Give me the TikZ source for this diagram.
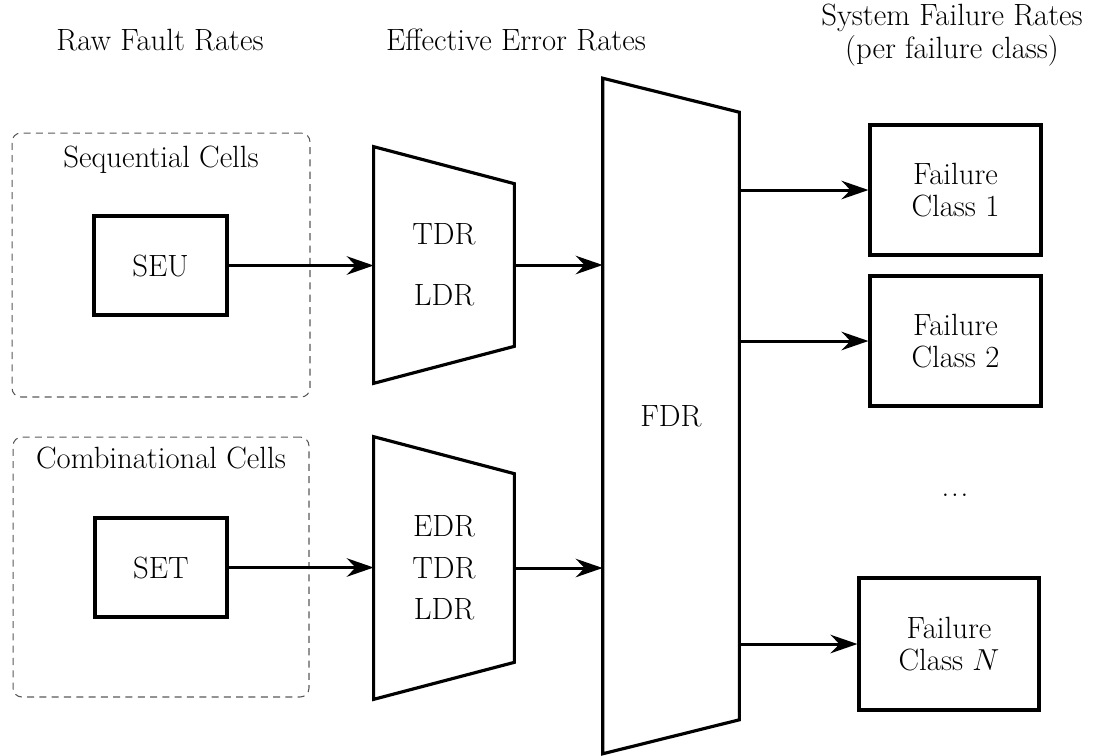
\documentclass[tikz,border=0pt]{standalone}
\usetikzlibrary{arrows.meta}
\tikzset{
  cellbox/.style   = {draw, line width=1.8pt, inner sep=0pt, align=center},
  cellgroup/.style = {draw=black!65, dash pattern=on 4pt off 3pt, line width=0.6pt,
                      rounded corners=5pt, inner sep=0pt},
  muxbox/.style    = {inner sep=0pt, align=center},
  muxline/.style   = {line width=1.8pt, line join=miter},
  link/.style      = {-{Stealth[length=5.4mm,width=3.7mm,inset=1.8mm]}, line width=1.7pt},
  caption/.style   = {anchor=base, align=center},
}

\begin{document}
\begin{tikzpicture}[x=0.02cm, y=-0.02cm, font=\fontsize{17.5}{18.5}\selectfont]
\useasboundingbox (0,0) rectangle (1095,755);

% ---------------- column titles ---------------------------------------
\node[caption] (traw) at (160,50) {Raw Fault Rates};
\node[caption] (teff) at (516,50) {Effective Error Rates};
\node[align=center] (tsys) at (952,35) {System Failure Rates\\(per failure class)};

% ---------------- raw faults ------------------------------------------
\node[cellgroup, minimum width=5.96cm, minimum height=5.28cm] (gseq) at (161,265) {};
\node[cellgroup, minimum width=5.92cm, minimum height=5.2cm] (gcomb) at (161,567) {};
\node[caption] (lseq) at (161,167) {Sequential Cells};
\node[caption] (lcomb) at (161,468) {Combinational Cells};

\node[cellbox, minimum width=2.66cm, minimum height=1.98cm] (seu) at (160.5,265.5) {SEU};
\node[cellbox, minimum width=2.64cm, minimum height=1.98cm] (set) at (161,567.5) {SET};

% ---------------- derating stages -------------------------------------
\node[muxbox, minimum width=2.8cm, minimum height=4.72cm] (mux1) at (444,265)
  {TDR\\[16pt]LDR};
\node[muxbox, minimum width=2.8cm, minimum height=5.24cm] (mux2) at (444,568)
  {EDR\\[5pt]TDR\\[5pt]LDR};
\node[muxbox, minimum width=2.72cm, minimum height=13.5cm] (fdr) at (671,416) {FDR};

\foreach \m/\d in {mux1/0.74cm, mux2/0.74cm, fdr/0.68cm}
  \draw[muxline] (\m.north west) -- ([yshift=-\d]\m.north east)
    -- ([yshift=\d]\m.south east) -- (\m.south west) -- cycle;

% ---------------- failure classes -------------------------------------
\node[cellbox, minimum width=3.42cm, minimum height=2.6cm] (fc1) at (955.5,190)
  {Failure\\Class 1};
\node[cellbox, minimum width=3.42cm, minimum height=2.6cm] (fc2) at (955.5,341)
  {Failure\\Class 2};
\node[cellbox, minimum width=3.6cm, minimum height=2.64cm] (fcn) at (949,644)
  {Failure\\Class $N$};
\node[caption] (fdots) at (955,496) {.\kern1pt.\kern1pt.};

% ---------------- connections -----------------------------------------
\draw[link] (seu.east) -- (seu.east -| mux1.west);
\draw[link] (set.east) -- (set.east -| mux2.west);
\foreach \m in {mux1, mux2}
  \draw[link] (\m.east) -- (\m.east -| fdr.west);
\foreach \f in {fc1, fc2, fcn}
  \draw[link] (fdr.east |- \f.west) -- (\f.west);

\end{tikzpicture}
\end{document}
